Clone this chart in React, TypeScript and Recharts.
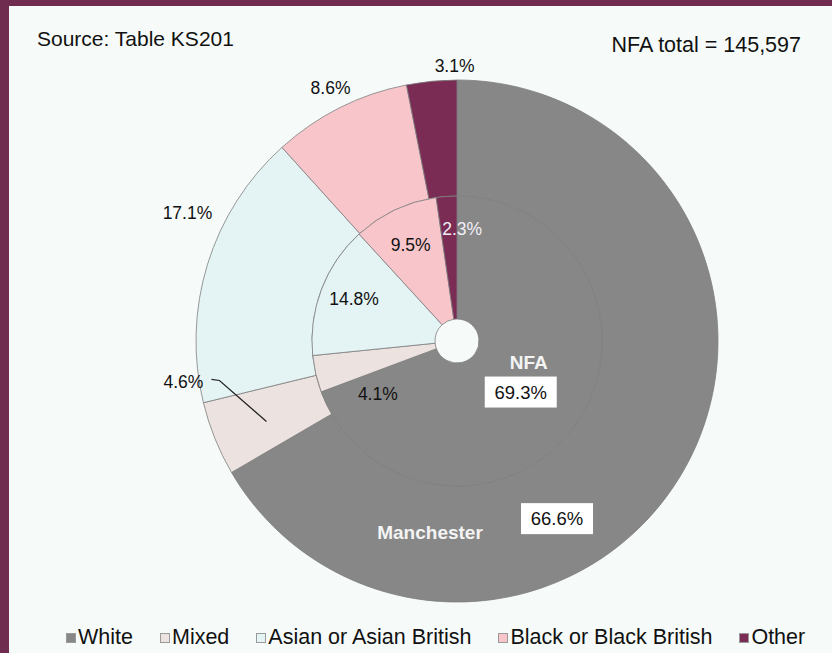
import { PieChart, Pie, Cell, Legend } from "recharts";

const CATEGORIES = [
  "White",
  "Mixed",
  "Asian or Asian British",
  "Black or Black British",
  "Other",
];
const COLORS = ["#878787", "#ece2df", "#e4f4f4", "#f8c6ca", "#7a2c55"];
const MANCHESTER = [66.6, 4.6, 17.1, 8.6, 3.1];
const NFA = [69.3, 4.1, 14.8, 9.5, 2.3];
const SOURCE = "Source: Table KS201";
const NFA_TOTAL = "NFA total = 145,597";

const outerData = CATEGORIES.map((name, i) => ({ name, value: MANCHESTER[i] }));
const innerData = CATEGORIES.map((name, i) => ({ name, value: NFA[i] }));

const FONT = "'Liberation Sans', Arial, sans-serif";
const RAD = Math.PI / 180;
const CX = 457;
const CY = 341;

// label nudges so they land where Excel put them
const OUTER_NUDGE = [
  [-76, 76],
  [-12, -64],
  [0, -45],
  [0, -1],
  [25, 6],
];
const INNER_NUDGE = [
  [-25, -11],
  [26, 28],
  [-2, -4],
  [0, 2],
  [13, -4],
];

function BoxLabel({ x, y, text, title, tx, ty }: any) {
  return (
    <g>
      <rect x={x - 36} y={y - 15} width={72} height={31} fill="#ffffff" />
      <text x={x} y={y + 7} textAnchor="middle" fontSize={18.5} fill="#111" fontFamily={FONT}>
        {text}
      </text>
      <text
        x={x + tx}
        y={y + ty}
        textAnchor="middle"
        fontSize={19}
        fontWeight="bold"
        fill="#f4f4f4"
        fontFamily={FONT}
      >
        {title}
      </text>
    </g>
  );
}

function outerLabel(props: any) {
  const { cx, cy, midAngle, index, value } = props;
  const r = index === 0 ? 203 : 282;
  const x = cx + r * Math.cos(-midAngle * RAD) + OUTER_NUDGE[index][0];
  const y = cy + r * Math.sin(-midAngle * RAD) + OUTER_NUDGE[index][1];
  const text = `${value.toFixed(1)}%`;
  if (index === 0) {
    return <BoxLabel x={x} y={y} text={text} title="Manchester" tx={-127} ty={21} />;
  }
  return (
    <g>
      <text x={x} y={y + 6} textAnchor="middle" fontSize={17.5} fill="#111" fontFamily={FONT}>
        {text}
      </text>
      {index === 1 && (
        <polyline
          points={`${x + 28},${y - 3} ${x + 36},${y - 2} ${x + 83},${y + 39}`}
          fill="none"
          stroke="#222"
          strokeWidth={1.2}
        />
      )}
    </g>
  );
}

function innerLabel(props: any) {
  const { cx, cy, midAngle, index, value } = props;
  const r = 108;
  const x = cx + r * Math.cos(-midAngle * RAD) + INNER_NUDGE[index][0];
  const y = cy + r * Math.sin(-midAngle * RAD) + INNER_NUDGE[index][1];
  const text = `${value.toFixed(1)}%`;
  if (index === 0) {
    return <BoxLabel x={x} y={y} text={text} title="NFA" tx={8} ty={-23} />;
  }
  return (
    <text
      x={x}
      y={y + 6}
      textAnchor="middle"
      fontSize={17.5}
      fill={index === 4 ? "#f2eef6" : "#111"}
      fontFamily={FONT}
    >
      {text}
    </text>
  );
}

function LegendContent() {
  return (
    <div
      style={{
        display: "flex",
        justifyContent: "flex-start",
        gap: 27,
        paddingLeft: 66,
        fontFamily: FONT,
        fontSize: 21.5,
        color: "#111",
      }}
    >
      {CATEGORIES.map((c, i) => (
        <div key={c} style={{ display: "flex", alignItems: "center" }}>
          <span
            style={{
              display: "inline-block",
              width: 8,
              height: 8,
              background: COLORS[i],
              border: "1px solid #9a9a9a",
              marginRight: 2,
            }}
          />
          {c}
        </div>
      ))}
    </div>
  );
}

export default function App() {
  return (
    <div
      style={{
        position: "fixed",
        left: 0,
        top: 0,
        width: 832,
        height: 653,
        background: "#f6fbf9",
        overflow: "hidden",
      }}
    >
      <PieChart width={832} height={653} margin={{ top: 0, right: 0, bottom: 0, left: 0 }}>
        <Pie
          data={outerData}
          dataKey="value"
          nameKey="name"
          cx={CX}
          cy={CY}
          innerRadius={145}
          outerRadius={261}
          startAngle={90}
          endAngle={-270}
          stroke="#7d7d7d"
          strokeWidth={0.8}
          label={outerLabel}
          labelLine={false}
          isAnimationActive={false}
        >
          {outerData.map((d, i) => (
            <Cell key={d.name} fill={COLORS[i]} />
          ))}
        </Pie>
        <Pie
          data={innerData}
          dataKey="value"
          nameKey="name"
          cx={CX}
          cy={CY}
          innerRadius={22}
          outerRadius={145}
          startAngle={90}
          endAngle={-270}
          stroke="#7d7d7d"
          strokeWidth={0.8}
          label={innerLabel}
          labelLine={false}
          isAnimationActive={false}
        >
          {innerData.map((d, i) => (
            <Cell key={d.name} fill={COLORS[i]} />
          ))}
        </Pie>
        <Legend
          verticalAlign="bottom"
          content={<LegendContent />}
          wrapperStyle={{ left: 0, width: 832, bottom: 3 }}
        />
      </PieChart>
      <div
        style={{
          position: "absolute",
          left: 37,
          top: 27,
          fontFamily: FONT,
          fontSize: 21,
          color: "#111",
        }}
      >
        {SOURCE}
      </div>
      <div
        style={{
          position: "absolute",
          right: 31,
          top: 33,
          fontFamily: FONT,
          fontSize: 21.5,
          color: "#111",
        }}
      >
        {NFA_TOTAL}
      </div>
      <div style={{ position: "absolute", left: 0, top: 0, width: 832, height: 6, background: "#6f2c4f" }} />
      <div style={{ position: "absolute", left: 0, top: 0, width: 9, height: 653, background: "#6f2c4f" }} />
    </div>
  );
}
